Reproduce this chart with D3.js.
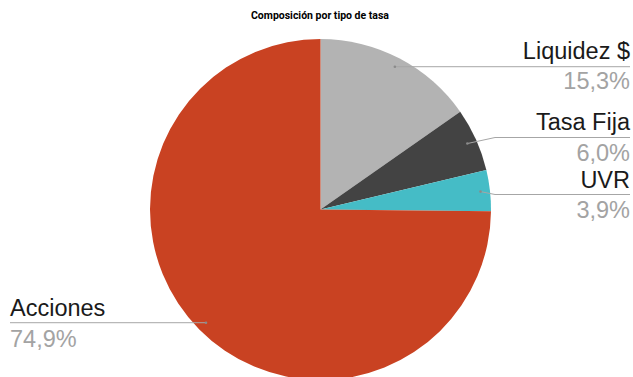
<!DOCTYPE html>
<html><head><meta charset="utf-8">
<script src="https://cdn.jsdelivr.net/npm/d3@7"></script>
<style>body{margin:0;background:#fff}svg{display:block;font-family:Roboto,Arial,sans-serif}</style>
</head><body>
<svg id="c" width="633" height="377"></svg>
<script>
const categories = ["Liquidez $", "Tasa Fija", "UVR", "Acciones"];
const values = [15.3, 6.0, 3.9, 74.9];
const pctLabels = ["15,3%", "6,0%", "3,9%", "74,9%"];
const colors = ["#b3b3b3", "#434343", "#45bcc6", "#c94222"];
const title = "Composición por tipo de tasa";

const W = 633, H = 377, cx = 320.5, cy = 209.5, R = 170.5;
const svg = d3.select("#c");
svg.append("text").attr("x", 320).attr("y", 19).attr("text-anchor", "middle")
  .attr("font-size", 10.5).attr("font-weight", "bold").attr("fill", "#000").text(title);

const data = categories.map((c, i) => ({c, v: values[i], p: pctLabels[i], col: colors[i]}));
const pie = d3.pie().value(d => d.v).sort(null);
const arcs = pie(data);
const arc = d3.arc().innerRadius(0).outerRadius(R);
const g = svg.append("g").attr("transform", `translate(${cx},${cy})`);
g.selectAll("path").data(arcs).join("path").attr("d", arc).attr("fill", d => d.data.col);

const layout = [
  {ly: 59, py: 89, lineY: 66, side: "r"},
  {ly: 130, py: 161, lineY: 137.5, side: "r"},
  {ly: 188, py: 218, lineY: 194.5, side: "r"},
  {ly: 316, py: 347, lineY: 323, side: "l"}
];
const rA = 161;
const lf = "'Liberation Sans', Arial, sans-serif";
arcs.forEach((a, i) => {
  const m = (a.startAngle + a.endAngle) / 2;
  const ax = cx + rA * Math.sin(m), ay = cy - rA * Math.cos(m);
  const L = layout[i];
  let pts;
  if (L.side === "r") {
    pts = Math.abs(ay - L.lineY) < 2 ? [[ax, ay], [630, ay]] : [[ax, ay], [495, L.lineY], [630, L.lineY]];
  } else {
    pts = [[ax, ay], [10, ay]];
  }
  svg.append("path").attr("d", d3.line()(pts)).attr("fill", "none").attr("stroke", "#a6a6a6").attr("stroke-width", 1);
  svg.append("circle").attr("cx", ax).attr("cy", ay).attr("r", 1.3).attr("fill", "#8a8a8a");
  const x = L.side === "r" ? 630 : 10;
  const anchor = L.side === "r" ? "end" : "start";
  svg.append("text").attr("x", x).attr("y", L.ly).attr("text-anchor", anchor)
    .attr("font-family", lf).attr("font-size", 23.5).attr("fill", "#1a1a1a").text(a.data.c);
  svg.append("text").attr("x", x).attr("y", L.py).attr("text-anchor", anchor)
    .attr("font-family", lf).attr("font-size", 23.5).attr("fill", "#a3a3a3").text(a.data.p);
});
</script>
</body></html>
